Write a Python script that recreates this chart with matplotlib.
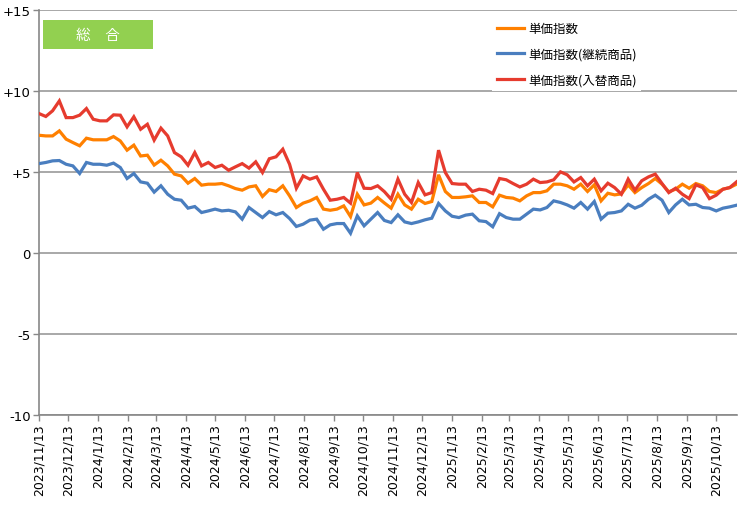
import numpy as np
import pandas as pd
import matplotlib
matplotlib.use("Agg")
from matplotlib import pyplot as plt
from matplotlib.patches import Rectangle

plt.rcParams['font.family'] = ['DejaVu Sans', 'Noto Sans CJK JP']

# weekly observations starting 2023/11/13
start_date = '2023-11-13'
n_weeks = 104

tanka = [7.28, 7.24, 7.24, 7.55, 7.04, 6.83, 6.63, 7.10, 7.00, 7.00, 7.00, 7.20, 6.93, 6.36, 6.67, 6.00, 6.05, 5.44,
         5.74, 5.39, 4.88, 4.77, 4.32, 4.61, 4.20, 4.26, 4.26, 4.30, 4.16, 3.99, 3.89, 4.09, 4.16, 3.50,
         3.92, 3.81, 4.16, 3.54, 2.82, 3.09, 3.23, 3.44, 2.72, 2.65, 2.72, 2.92, 2.26, 3.64, 2.98, 3.09, 3.44,
         3.10, 2.78, 3.64, 2.98, 2.72, 3.33, 3.07, 3.19, 4.84, 3.81, 3.44, 3.44, 3.48, 3.54, 3.13, 3.13, 2.86,
         3.58, 3.44, 3.40, 3.23, 3.54, 3.74, 3.74, 3.85, 4.26, 4.26, 4.16, 3.95, 4.26, 3.81, 4.22, 3.23, 3.70, 3.60,
         3.66, 4.22, 3.74, 4.05, 4.30, 4.61, 4.26, 3.79, 3.95, 4.26, 4.01, 4.30, 4.16, 3.81, 3.74, 3.95, 4.05, 4.26]

keizoku = [5.53, 5.60, 5.70, 5.72, 5.49, 5.39, 4.92, 5.60, 5.49, 5.49, 5.43, 5.56, 5.29, 4.61, 4.92, 4.40, 4.32, 3.77,
           4.16, 3.64, 3.33, 3.27, 2.78, 2.88, 2.51, 2.61, 2.72, 2.61, 2.65, 2.55, 2.10, 2.82, 2.51, 2.20,
           2.57, 2.37, 2.51, 2.14, 1.65, 1.79, 2.04, 2.10, 1.48, 1.75, 1.83, 1.83, 1.23, 2.30, 1.69, 2.10, 2.51,
           2.02, 1.89, 2.37, 1.93, 1.83, 1.93, 2.06, 2.16, 3.07, 2.61, 2.28, 2.20, 2.35, 2.41, 2.00, 1.95, 1.63,
           2.44, 2.20, 2.10, 2.10, 2.41, 2.72, 2.67, 2.82, 3.23, 3.13, 2.98, 2.78, 3.13, 2.72, 3.19, 2.10, 2.47, 2.51,
           2.61, 3.02, 2.78, 2.96, 3.33, 3.58, 3.27, 2.51, 2.98, 3.33, 2.98, 3.02, 2.82, 2.78, 2.61, 2.78, 2.86, 2.96]

irekae = [8.62, 8.44, 8.79, 9.40, 8.37, 8.37, 8.52, 8.93, 8.27, 8.17, 8.17, 8.54, 8.52, 7.80, 8.42, 7.65, 7.96, 6.98,
          7.72, 7.24, 6.21, 5.95, 5.43, 6.21, 5.39, 5.60, 5.29, 5.43, 5.12, 5.33, 5.53, 5.25, 5.64, 4.98,
          5.83, 5.95, 6.42, 5.49, 4.01, 4.77, 4.57, 4.71, 3.95, 3.27, 3.33, 3.44, 3.09, 4.98, 4.01, 3.99, 4.16,
          3.80, 3.33, 4.57, 3.64, 3.13, 4.36, 3.60, 3.74, 6.36, 4.98, 4.30, 4.26, 4.26, 3.81, 3.95, 3.89, 3.68,
          4.61, 4.53, 4.30, 4.09, 4.26, 4.57, 4.36, 4.40, 4.53, 5.02, 4.84, 4.40, 4.67, 4.16, 4.57, 3.85, 4.32, 4.05,
          3.64, 4.57, 3.89, 4.47, 4.71, 4.88, 4.30, 3.74, 4.01, 3.64, 3.37, 4.22, 4.05, 3.37, 3.58, 3.95, 4.05, 4.40]

x_ticklabels = ['2023/11/13', '2023/12/13', '2024/1/13', '2024/2/13', '2024/3/13', '2024/4/13',
                '2024/5/13', '2024/6/13', '2024/7/13', '2024/8/13', '2024/9/13', '2024/10/13',
                '2024/11/13', '2024/12/13', '2025/1/13', '2025/2/13', '2025/3/13', '2025/4/13',
                '2025/5/13', '2025/6/13', '2025/7/13', '2025/8/13', '2025/9/13', '2025/10/13']
y_ticks = [-10, -5, 0, 5, 10, 15]
y_ticklabels = ['-10', '-5', '0', '+5', '+10', '+15']
labels = ['単価指数', '単価指数(継続商品)', '単価指数(入替商品)']
colors = ['#FF8000', '#4A7EBF', '#E63B2E']

dates = pd.date_range(start_date, periods=n_weeks, freq='7D')
tick_dates = pd.to_datetime(x_ticklabels, format='%Y/%m/%d')

fig = plt.figure(figsize=(7.42, 5.10), dpi=100)
ax = fig.add_axes([0.0526, 0.184, 0.940, 0.794])

for series, lab, col in zip([tanka, keizoku, irekae], labels, colors):
    ax.plot(dates, series, color=col, lw=2.3, label=lab, solid_joinstyle='miter', zorder=3)

ax.set_xlim(dates[0], dates[-1])
ax.set_ylim(-10, 15)
ax.set_yticks(y_ticks)
ax.set_yticklabels(y_ticklabels, fontsize=9.5)
ax.set_xticks(tick_dates)
ax.set_xticklabels(x_ticklabels, rotation=90, fontsize=9)

ax.grid(axis='y', color='#999999', lw=1.2, zorder=1)
for s in ['top', 'right']:
    ax.spines[s].set_visible(False)
for s in ['left', 'bottom']:
    ax.spines[s].set_color('#888888')
    ax.spines[s].set_linewidth(1.2)
ax.tick_params(axis='both', color='#888888', length=4, width=1, pad=2)

leg = ax.legend(loc='upper left', bbox_to_anchor=(0.640, 0.998), frameon=True, fancybox=False,
                edgecolor='none', facecolor='white', framealpha=1,
                prop={'family': ['Noto Sans CJK JP', 'DejaVu Sans'], 'size': 9},
                handlelength=2.2, handletextpad=0.3, labelspacing=1.0, borderpad=0.4)
leg.set_zorder(5)

ax.add_patch(Rectangle((0.0057, 0.903), 0.157, 0.072, transform=ax.transAxes,
                       facecolor='#92D050', edgecolor='none', zorder=4))
ax.text(0.0845, 0.939, '総　合', transform=ax.transAxes, ha='center', va='center',
        color='white', fontsize=10.5, family=['Noto Sans CJK JP'], zorder=6)

fig.savefig('out.png', dpi=100)
